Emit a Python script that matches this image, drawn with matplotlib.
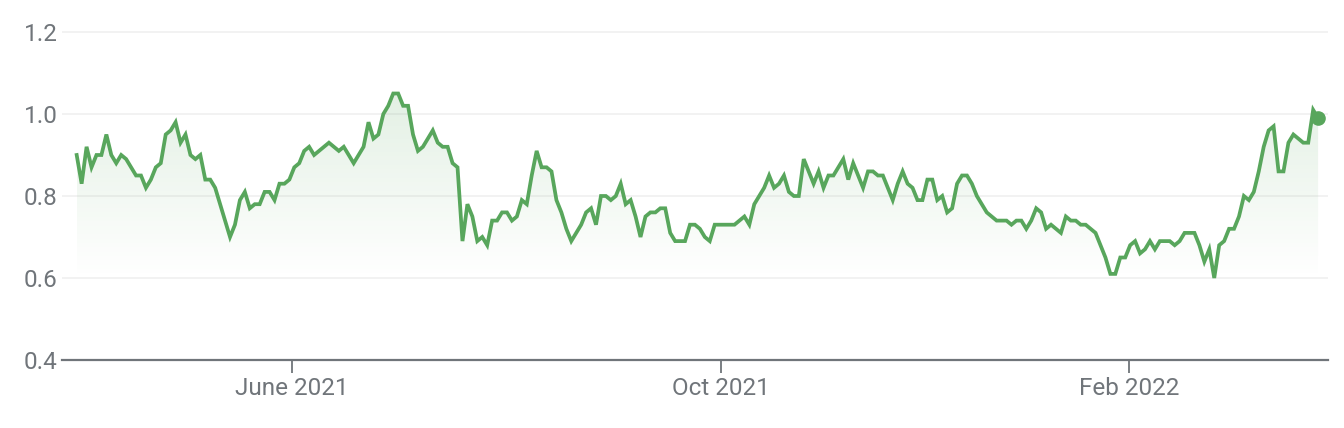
import numpy as np
import matplotlib
matplotlib.use("Agg")
import matplotlib.pyplot as plt
from matplotlib.colors import LinearSegmentedColormap

# Daily closing prices (one value per trading day)
prices = [
    0.90, 0.83, 0.92, 0.87, 0.90, 0.90, 0.95, 0.90, 0.88, 0.90,
    0.89, 0.87, 0.85, 0.85, 0.82, 0.84, 0.87, 0.88, 0.95, 0.96,
    0.98, 0.93, 0.95, 0.90, 0.89, 0.90, 0.84, 0.84, 0.82, 0.78,
    0.74, 0.70, 0.73, 0.79, 0.81, 0.77, 0.78, 0.78, 0.81, 0.81,
    0.79, 0.83, 0.83, 0.84, 0.87, 0.88, 0.91, 0.92, 0.90, 0.91,
    0.92, 0.93, 0.92, 0.91, 0.92, 0.90, 0.88, 0.90, 0.92, 0.98,
    0.94, 0.95, 1.00, 1.02, 1.05, 1.05, 1.02, 1.02, 0.95, 0.91,
    0.92, 0.94, 0.96, 0.93, 0.92, 0.92, 0.88, 0.87, 0.69, 0.78,
    0.75, 0.69, 0.70, 0.68,
    0.74, 0.74, 0.76, 0.76, 0.74, 0.75, 0.79, 0.78, 0.85, 0.91,
    0.87, 0.87, 0.86, 0.79, 0.76, 0.72, 0.69, 0.71, 0.73, 0.76,
    0.77, 0.73, 0.80, 0.80, 0.79, 0.80, 0.83, 0.78, 0.79, 0.75,
    0.70, 0.75, 0.76, 0.76, 0.77, 0.77, 0.71, 0.69, 0.69, 0.69,
    0.73, 0.73, 0.72, 0.70, 0.69, 0.73, 0.73, 0.73, 0.73, 0.73,
    0.74, 0.75, 0.73, 0.78, 0.80, 0.82, 0.85, 0.82, 0.83, 0.85,
    0.81, 0.80, 0.80, 0.89, 0.86, 0.83, 0.86, 0.82, 0.85, 0.85,
    0.87, 0.89, 0.84, 0.88, 0.85, 0.82, 0.86, 0.86, 0.85, 0.85,
    0.82,
    0.79, 0.83, 0.86, 0.83, 0.82, 0.79, 0.79, 0.84, 0.84, 0.79,
    0.80, 0.76, 0.77, 0.83, 0.85, 0.85, 0.83, 0.80, 0.78, 0.76,
    0.75, 0.74, 0.74, 0.74, 0.73, 0.74, 0.74, 0.72, 0.74, 0.77,
    0.76, 0.72, 0.73, 0.72, 0.71, 0.75, 0.74, 0.74, 0.73, 0.73,
    0.72, 0.71, 0.68, 0.65, 0.61, 0.61, 0.65, 0.65, 0.68, 0.69,
    0.66, 0.67, 0.69, 0.67, 0.69, 0.69, 0.69, 0.68, 0.69, 0.71,
    0.71, 0.71, 0.68, 0.64, 0.67, 0.60, 0.68, 0.69, 0.72, 0.72,
    0.75, 0.80, 0.79, 0.81, 0.86, 0.92, 0.96, 0.97, 0.86, 0.86,
    0.93, 0.95, 0.94, 0.93, 0.93, 1.01, 0.99,
]

# month labels and the trading-day index where each month starts
month_labels = ["June 2021", "Oct 2021", "Feb 2022"]
month_index = [43.5, 130.3, 212.8]

y_ticks = [0.4, 0.6, 0.8, 1.0, 1.2]
y_labels = ["0.4", "0.6", "0.8", "1.0", "1.2"]

GREEN = "#58a65c"
GRAY = "#70757a"

plt.rcParams["font.family"] = ["Roboto", "DejaVu Sans"]

fig = plt.figure(figsize=(13.44, 4.28), dpi=100)
ax = fig.add_axes([62 / 1344, (428 - 360) / 428, (1328 - 62) / 1344, (360 - 23.8) / 428])

x = np.arange(len(prices))
y = np.array(prices)

ax.set_xlim(-2.97, len(prices) - 1 + 2.0)
ax.set_ylim(0.4, 1.22)

# light horizontal grid lines
for v in y_ticks[1:]:
    ax.axhline(v, color="#f1f1f1", lw=1.3, zorder=0)

# gradient fill under the line
cmap = LinearSegmentedColormap.from_list(
    "g", [(0.345, 0.65, 0.36, 0.0), (0.345, 0.65, 0.36, 0.17)])
grad = np.linspace(0, 1, 256).reshape(-1, 1)
im = ax.imshow(grad, extent=[x[0], x[-1], 0.6, 1.06], origin="lower",
               cmap=cmap, aspect="auto", zorder=1, interpolation="bicubic")
poly = ax.fill_between(x, y, 0.4, color="none", lw=0)
im.set_clip_path(poly.get_paths()[0], transform=ax.transData)

ax.plot(x, y, color=GREEN, lw=2.7, solid_joinstyle="miter", zorder=3)
ax.plot(x[-1], y[-1], "o", color=GREEN, ms=9.5, zorder=4)

for s in ["top", "right", "left"]:
    ax.spines[s].set_visible(False)
ax.spines["bottom"].set_color(GRAY)
ax.spines["bottom"].set_linewidth(1.6)

ax.set_yticks(y_ticks)
ax.set_yticklabels(y_labels)
ax.tick_params(axis="y", length=0, pad=27.5, labelsize=17.5, labelcolor=GRAY)
for lab in ax.get_yticklabels():
    lab.set_horizontalalignment("left")

ax.set_xticks(month_index)
ax.set_xticklabels(month_labels)
ax.tick_params(axis="x", length=9.5, width=1.3, color=GRAY, pad=3,
               labelsize=17.5, labelcolor=GRAY)

fig.savefig("out.png", dpi=100)
